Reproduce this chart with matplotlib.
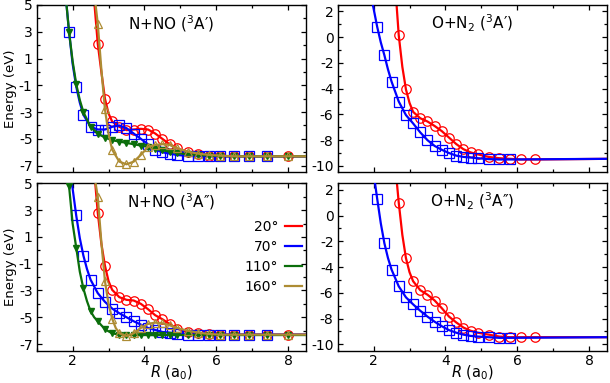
import numpy as np
import matplotlib
matplotlib.use("Agg")
import matplotlib.pyplot as plt
from matplotlib.ticker import FixedLocator

plt.rcParams['font.family'] = ['DejaVu Sans']
plt.rcParams['mathtext.fontset'] = 'dejavusans'
plt.rcParams['axes.unicode_minus'] = False

# ---------------- data ----------------
angles = ["20°", "70°", "110°", "160°"]
colors = ["#ff0000", "#0000ff", "#0b6e0b", "#ad8c34"]

R_grid = [1.9, 2.1, 2.3, 2.5, 2.7, 2.9, 3.1, 3.3, 3.5, 3.7, 3.9, 4.1,
          4.3, 4.5, 4.7, 4.9, 5.2, 5.5, 5.8, 6.1, 6.5, 6.9, 7.4, 8.0]
nan = np.nan

# N+NO (3A')
nno_ap_20 = [nan, nan, nan, nan, 2.1, -2.0, -3.7, -4.1, -4.35, -4.3, -4.25, -4.3,
             -4.6, -5.0, -5.4, -5.7, -6.0, -6.15, -6.25, -6.3, -6.3, -6.3, -6.3, -6.3]
nno_ap_70 = [3.0, -1.1, -3.2, -4.1, -4.3, -4.3, -4.1, -4.0, -4.2, -4.6, -5.0, -5.4,
             -5.8, -6.0, -6.1, -6.2, -6.27, -6.3, -6.3, -6.3, -6.3, -6.3, -6.3, nan]
nno_ap_110 = [3.0, -0.9, -3.0, -4.1, -4.6, -4.9, -5.1, -5.2, -5.3, -5.4, -5.5, -5.6,
              -5.75, -5.85, -5.95, -6.05, -6.15, -6.2, -6.25, -6.28, -6.3, -6.3, -6.3, -6.3]
nno_ap_160 = [nan, nan, nan, nan, 3.6, -2.8, -5.8, -6.7, -6.9, -6.7, -6.2, -5.6,
              -5.45, -5.4, -5.45, -5.7, -5.95, -6.1, -6.2, -6.25, -6.3, -6.3, -6.3, -6.3]

# N+NO (3A'')
nno_app_20 = [nan, nan, nan, nan, 2.8, -1.15, -2.95, -3.5, -3.7, -3.75, -4.0, -4.4,
              -4.85, -5.15, -5.5, -5.85, -6.1, -6.2, -6.25, -6.3, -6.3, -6.3, -6.3, -6.3]
nno_app_70 = [nan, 2.6, -0.4, -2.2, -3.2, -3.85, -4.35, -4.7, -5.0, -5.3, -5.55, -5.8,
              -5.95, -6.1, -6.15, -6.25, -6.3, -6.3, -6.3, -6.3, -6.3, -6.3, -6.3, nan]
nno_app_110 = [4.8, 0.2, -2.85, -4.55, -5.3, -5.9, -6.2, -6.3, -6.33, -6.33, -6.33, -6.33,
               -6.33, -6.33, -6.33, -6.33, -6.33, -6.33, -6.33, -6.33, -6.33, -6.33, -6.33, -6.33]
nno_app_160 = [nan, nan, nan, nan, 4.0, -2.3, -5.1, -6.2, -6.4, -6.2, -5.8, -5.5,
               -5.4, -5.45, -5.6, -5.8, -6.0, -6.15, -6.25, -6.3, -6.3, -6.3, -6.3, -6.3]

# O+N2 (3A')
on2_ap_20 = [nan, nan, nan, nan, 0.15, -4.05, -5.8, -6.3, -6.55, -6.9, -7.3, -7.8,
             -8.3, -8.7, -8.95, -9.1, -9.3, -9.4, -9.45, -9.5, -9.5, nan, nan, nan]
on2_ap_70 = [nan, 0.8, -1.4, -3.45, -5.0, -6.05, -6.7, -7.4, -8.0, -8.45, -8.75, -9.0,
             -9.2, -9.3, -9.35, -9.4, -9.47, -9.5, -9.5, nan, nan, nan, nan, nan]

# O+N2 (3A'')
on2_app_20 = [nan, nan, nan, nan, 1.0, -3.3, -5.1, -5.8, -6.15, -6.6, -7.2, -7.85,
              -8.3, -8.7, -8.95, -9.1, -9.25, -9.4, -9.45, -9.45, -9.45, nan, nan, nan]
on2_app_70 = [nan, 1.3, -2.15, -4.2, -5.5, -6.35, -6.9, -7.4, -7.85, -8.25, -8.6, -8.9,
              -9.1, -9.25, -9.35, -9.4, -9.45, -9.5, -9.5, nan, nan, nan, nan, nan]

# extra points (R, E)
line_nno_ap_20 = [(2.61, 5.0), (2.8, 0.0), (3.0, -3.1), (8.5, -6.3)]
line_nno_ap_70 = [(1.83, 5.0), (2.0, 0.6), (2.2, -2.3), (8.5, -6.3)]
line_nno_ap_110 = [(1.83, 5.0), (2.0, 0.8), (2.2, -2.1), (8.5, -6.3)]
line_nno_ap_160 = [(2.64, 5.0), (2.8, 0.2), (3.0, -4.6), (8.5, -6.3)]
line_nno_app_20 = [(2.63, 5.0), (2.8, 0.5), (3.0, -2.3), (8.5, -6.3)]
line_nno_app_70 = [(1.98, 5.0), (2.2, 0.9), (2.4, -1.4), (8.5, -6.3)]
line_nno_app_110 = [(1.89, 5.0), (2.0, 2.0), (2.2, -1.6), (2.4, -3.8), (2.6, -5.0), (8.5, -6.33)]
line_nno_app_160 = [(2.64, 5.0), (2.8, 0.6), (3.0, -4.0), (3.2, -5.8), (8.5, -6.3)]
line_on2_ap_20 = [(2.64, 2.5), (2.8, -2.3), (3.0, -5.1), (8.5, -9.45)]
line_on2_ap_70 = [(1.98, 2.5), (2.2, -0.4), (2.4, -2.5), (8.5, -9.45)]
line_on2_app_20 = [(2.65, 2.5), (2.8, -1.5), (3.0, -4.4), (8.5, -9.45)]
line_on2_app_70 = [(2.04, 2.5), (2.2, -0.6), (2.4, -3.3), (8.5, -9.45)]

titles = ["N+NO ($^3$A\u2032)", "O+N$_2$ ($^3$A\u2032)",
          "N+NO ($^3$A\u2033)", "O+N$_2$ ($^3$A\u2033)"]

# ---------------- plotting ----------------
fig = plt.figure(figsize=(6.1, 3.83), dpi=100)
W = 0.4415
H = 0.437
ax_tl = fig.add_axes([0.0602, 0.550, W, H])
ax_tr = fig.add_axes([0.5536, 0.550, W, H])
ax_bl = fig.add_axes([0.0602, 0.0843, W, H])
ax_br = fig.add_axes([0.5536, 0.0843, W, H])

markers = ["o", "s", "v", "^"]
mfill = ["none", "none", "full", "none"]
msize = [6.8, 6.8, 4.8, 6.0]


def draw(ax, idx, E, extra):
    c = colors[idx]
    R = np.array(R_grid)
    E = np.array(E, dtype=float)
    ok = ~np.isnan(E)
    pts = sorted(list(zip(R[ok], E[ok])) + list(extra))
    lx = [p[0] for p in pts]
    ly = [p[1] for p in pts]
    ax.plot(lx, ly, color=c, lw=1.6, zorder=2 + idx, label=angles[idx],
            solid_joinstyle='round')
    if mfill[idx] == "full":
        ax.plot(R[ok], E[ok], ls='none', marker=markers[idx], ms=msize[idx],
                color=c, mec=c, zorder=2 + idx)
    else:
        ax.plot(R[ok], E[ok], ls='none', marker=markers[idx], ms=msize[idx],
                mfc='none', mec=c, mew=0.9, zorder=2 + idx)


draw(ax_tl, 0, nno_ap_20, line_nno_ap_20)
draw(ax_tl, 1, nno_ap_70, line_nno_ap_70)
draw(ax_tl, 2, nno_ap_110, line_nno_ap_110)
draw(ax_tl, 3, nno_ap_160, line_nno_ap_160)

draw(ax_bl, 0, nno_app_20, line_nno_app_20)
draw(ax_bl, 1, nno_app_70, line_nno_app_70)
draw(ax_bl, 2, nno_app_110, line_nno_app_110)
draw(ax_bl, 3, nno_app_160, line_nno_app_160)

draw(ax_tr, 0, on2_ap_20, line_on2_ap_20)
draw(ax_tr, 1, on2_ap_70, line_on2_ap_70)
draw(ax_br, 0, on2_app_20, line_on2_app_20)
draw(ax_br, 1, on2_app_70, line_on2_app_70)

fs = 10
for ax, t in zip([ax_tl, ax_tr, ax_bl, ax_br], titles):
    ax.set_xlim(1, 8.5)
    ax.xaxis.set_major_locator(FixedLocator([2, 4, 6, 8]))
    ax.xaxis.set_minor_locator(FixedLocator([1, 3, 5, 7]))
    ax.tick_params(which='both', direction='in', top=True, right=True,
                   labelsize=fs, width=0.9)
    ax.tick_params(axis='y', pad=3)
    ax.tick_params(axis='x', pad=2.5)
    ax.tick_params(which='major', length=3.8)
    ax.tick_params(which='minor', length=2.2)
    for s in ax.spines.values():
        s.set_linewidth(1.0)
    ax.text(0.5, 0.89, t, transform=ax.transAxes, ha='center', va='center',
            fontsize=11)

for ax in [ax_tl, ax_bl]:
    ax.set_ylim(-7.5, 5)
    ax.yaxis.set_major_locator(FixedLocator([5, 3, 1, -1, -3, -5, -7]))
    ax.yaxis.set_minor_locator(FixedLocator([4, 2, 0, -2, -4, -6]))
    ax.set_ylabel("Energy (eV)", fontsize=9.5, labelpad=1)
for ax in [ax_tr, ax_br]:
    ax.set_ylim(-10.5, 2.5)
    ax.yaxis.set_major_locator(FixedLocator([2, 0, -2, -4, -6, -8, -10]))
    ax.yaxis.set_minor_locator(FixedLocator([1, -1, -3, -5, -7, -9]))
for ax in [ax_tl, ax_tr]:
    ax.tick_params(labelbottom=False)
for ax in [ax_bl, ax_br]:
    ax.set_xlabel("$R$ (a$_0$)", fontsize=10.5, labelpad=-3)

h, l = ax_bl.get_legend_handles_labels()
ax_bl.legend(h, l, loc='upper right', bbox_to_anchor=(0.985, 0.78),
             frameon=False, markerfirst=False, handlelength=1.25,
             handletextpad=0.45, labelspacing=0.42, fontsize=fs,
             borderaxespad=0, borderpad=0)

fig.savefig("out.png", dpi=100)
